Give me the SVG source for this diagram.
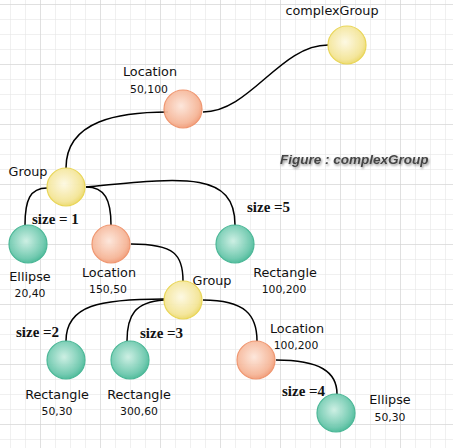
<svg xmlns="http://www.w3.org/2000/svg" width="453" height="448" viewBox="0 0 453 448">
<defs>
<pattern id="minor" x="10" y="4" width="15" height="15" patternUnits="userSpaceOnUse">
<path d="M0,0 H15 M0,0 V15" fill="none" stroke="#e2e2e2" stroke-width="1"/>
</pattern>
<pattern id="major" x="40" y="4" width="60" height="60" patternUnits="userSpaceOnUse">
<path d="M0,0 H60 M0,0 V60" fill="none" stroke="#cfcfcf" stroke-width="1"/>
</pattern>
<radialGradient id="gTeal" cx="0.45" cy="0.42" r="0.62">
<stop offset="0" stop-color="#cbefe3"/>
<stop offset="0.75" stop-color="#6cc8ad"/>
<stop offset="1" stop-color="#3fb592"/>
</radialGradient>
<radialGradient id="gYellow" cx="0.45" cy="0.42" r="0.62">
<stop offset="0" stop-color="#fdf9e2"/>
<stop offset="0.75" stop-color="#f4e597"/>
<stop offset="1" stop-color="#ead65e"/>
</radialGradient>
<radialGradient id="gOrange" cx="0.45" cy="0.42" r="0.62">
<stop offset="0" stop-color="#fde6da"/>
<stop offset="0.75" stop-color="#f6b698"/>
<stop offset="1" stop-color="#f09570"/>
</radialGradient>
<filter id="shadow" x="-10%" y="-30%" width="120%" height="160%">
<feDropShadow dx="1" dy="1.5" stdDeviation="1.2" flood-color="#000" flood-opacity="0.45"/>
</filter>
</defs>
<style>
.teal{fill:url(#gTeal);stroke:#43b492;stroke-width:1.2;opacity:0.95}
.yellow{fill:url(#gYellow);stroke:#e8d450;stroke-width:1.2;opacity:0.95}
.orange{fill:url(#gOrange);stroke:#ef926a;stroke-width:1.2;opacity:0.95}
.lbl{font-family:"DejaVu Sans",sans-serif;font-size:12.8px;fill:#111;text-anchor:middle}
.num{font-family:"DejaVu Sans",sans-serif;font-size:10.8px;fill:#111;text-anchor:middle}
.size{font-family:"Liberation Serif",serif;font-weight:bold;font-size:15px;fill:#111}
.edge{fill:none;stroke:#000;stroke-width:1.5}
.title{font-family:"Liberation Sans",sans-serif;font-weight:bold;font-style:italic;font-size:13.5px;fill:#444}
</style>
<rect width="453" height="448" fill="#fff"/>
<rect width="453" height="448" fill="url(#minor)"/>
<rect width="453" height="448" fill="url(#major)"/>

<g id="connectors">
<path class="edge" d="M203,112 C250,112 280,45 328,45"/>
<path class="edge" d="M66,168 C66,120 120,112 168,112"/>
<path class="edge" d="M47,188 C30,188 25,200 25,225"/>
<path class="edge" d="M86,187 C105,187 111,200 111,225"/>
<path class="edge" d="M86,187 C180,178 235,170 235,225"/>
<path class="edge" d="M131,244 C175,244 183,255 183,281"/>
<path class="edge" d="M164,299 C100,299 66,305 66,341"/>
<path class="edge" d="M164,300 C135,302 127,315 127,341"/>
<path class="edge" d="M203,300 C245,300 257,315 257,341"/>
<path class="edge" d="M276,360 C320,360 337,372 337,394"/>
</g>

<text class="title" x="280" y="164" filter="url(#shadow)">Figure : complexGroup</text>

<g id="complexGroup">
<circle class="yellow" cx="347" cy="45" r="19"/>
<text class="lbl" x="332" y="15">complexGroup</text>
</g>
<g id="location1">
<circle class="orange" cx="183" cy="109" r="19"/>
<text class="lbl" x="150" y="76">Location</text>
<text class="num" x="149" y="93">50,100</text>
</g>
<g id="group1">
<circle class="yellow" cx="66" cy="187" r="19"/>
<text class="lbl" x="28" y="176">Group</text>
</g>
<g id="ellipse1">
<circle class="teal" cx="28" cy="244" r="19"/>
<text class="lbl" x="30" y="281">Ellipse</text>
<text class="num" x="30" y="297">20,40</text>
<text class="size" x="32" y="224">size = 1</text>
</g>
<g id="location2">
<circle class="orange" cx="111" cy="244" r="19"/>
<text class="lbl" x="109" y="277">Location</text>
<text class="num" x="108" y="293">150,50</text>
</g>
<g id="rectangle1">
<circle class="teal" cx="235" cy="244" r="19"/>
<text class="lbl" x="285" y="277">Rectangle</text>
<text class="num" x="284" y="293">100,200</text>
<text class="size" x="247" y="212">size =5</text>
</g>
<g id="group2">
<circle class="yellow" cx="183" cy="300" r="19"/>
<text class="lbl" x="212" y="285">Group</text>
</g>
<g id="rectangle2">
<circle class="teal" cx="66" cy="360" r="19"/>
<text class="lbl" x="57" y="399">Rectangle</text>
<text class="num" x="57" y="415">50,30</text>
<text class="size" x="16" y="337">size =2</text>
</g>
<g id="rectangle3">
<circle class="teal" cx="130" cy="360" r="19"/>
<text class="lbl" x="139" y="399">Rectangle</text>
<text class="num" x="139" y="415">300,60</text>
<text class="size" x="140" y="338">size =3</text>
</g>
<g id="location3">
<circle class="orange" cx="256" cy="360" r="19"/>
<text class="lbl" x="297" y="333">Location</text>
<text class="num" x="296" y="349">100,200</text>
</g>
<g id="ellipse2">
<circle class="teal" cx="336" cy="413" r="19"/>
<text class="lbl" x="390" y="404">Ellipse</text>
<text class="num" x="390" y="421">50,30</text>
<text class="size" x="282" y="396">size =4</text>
</g>
</svg>
